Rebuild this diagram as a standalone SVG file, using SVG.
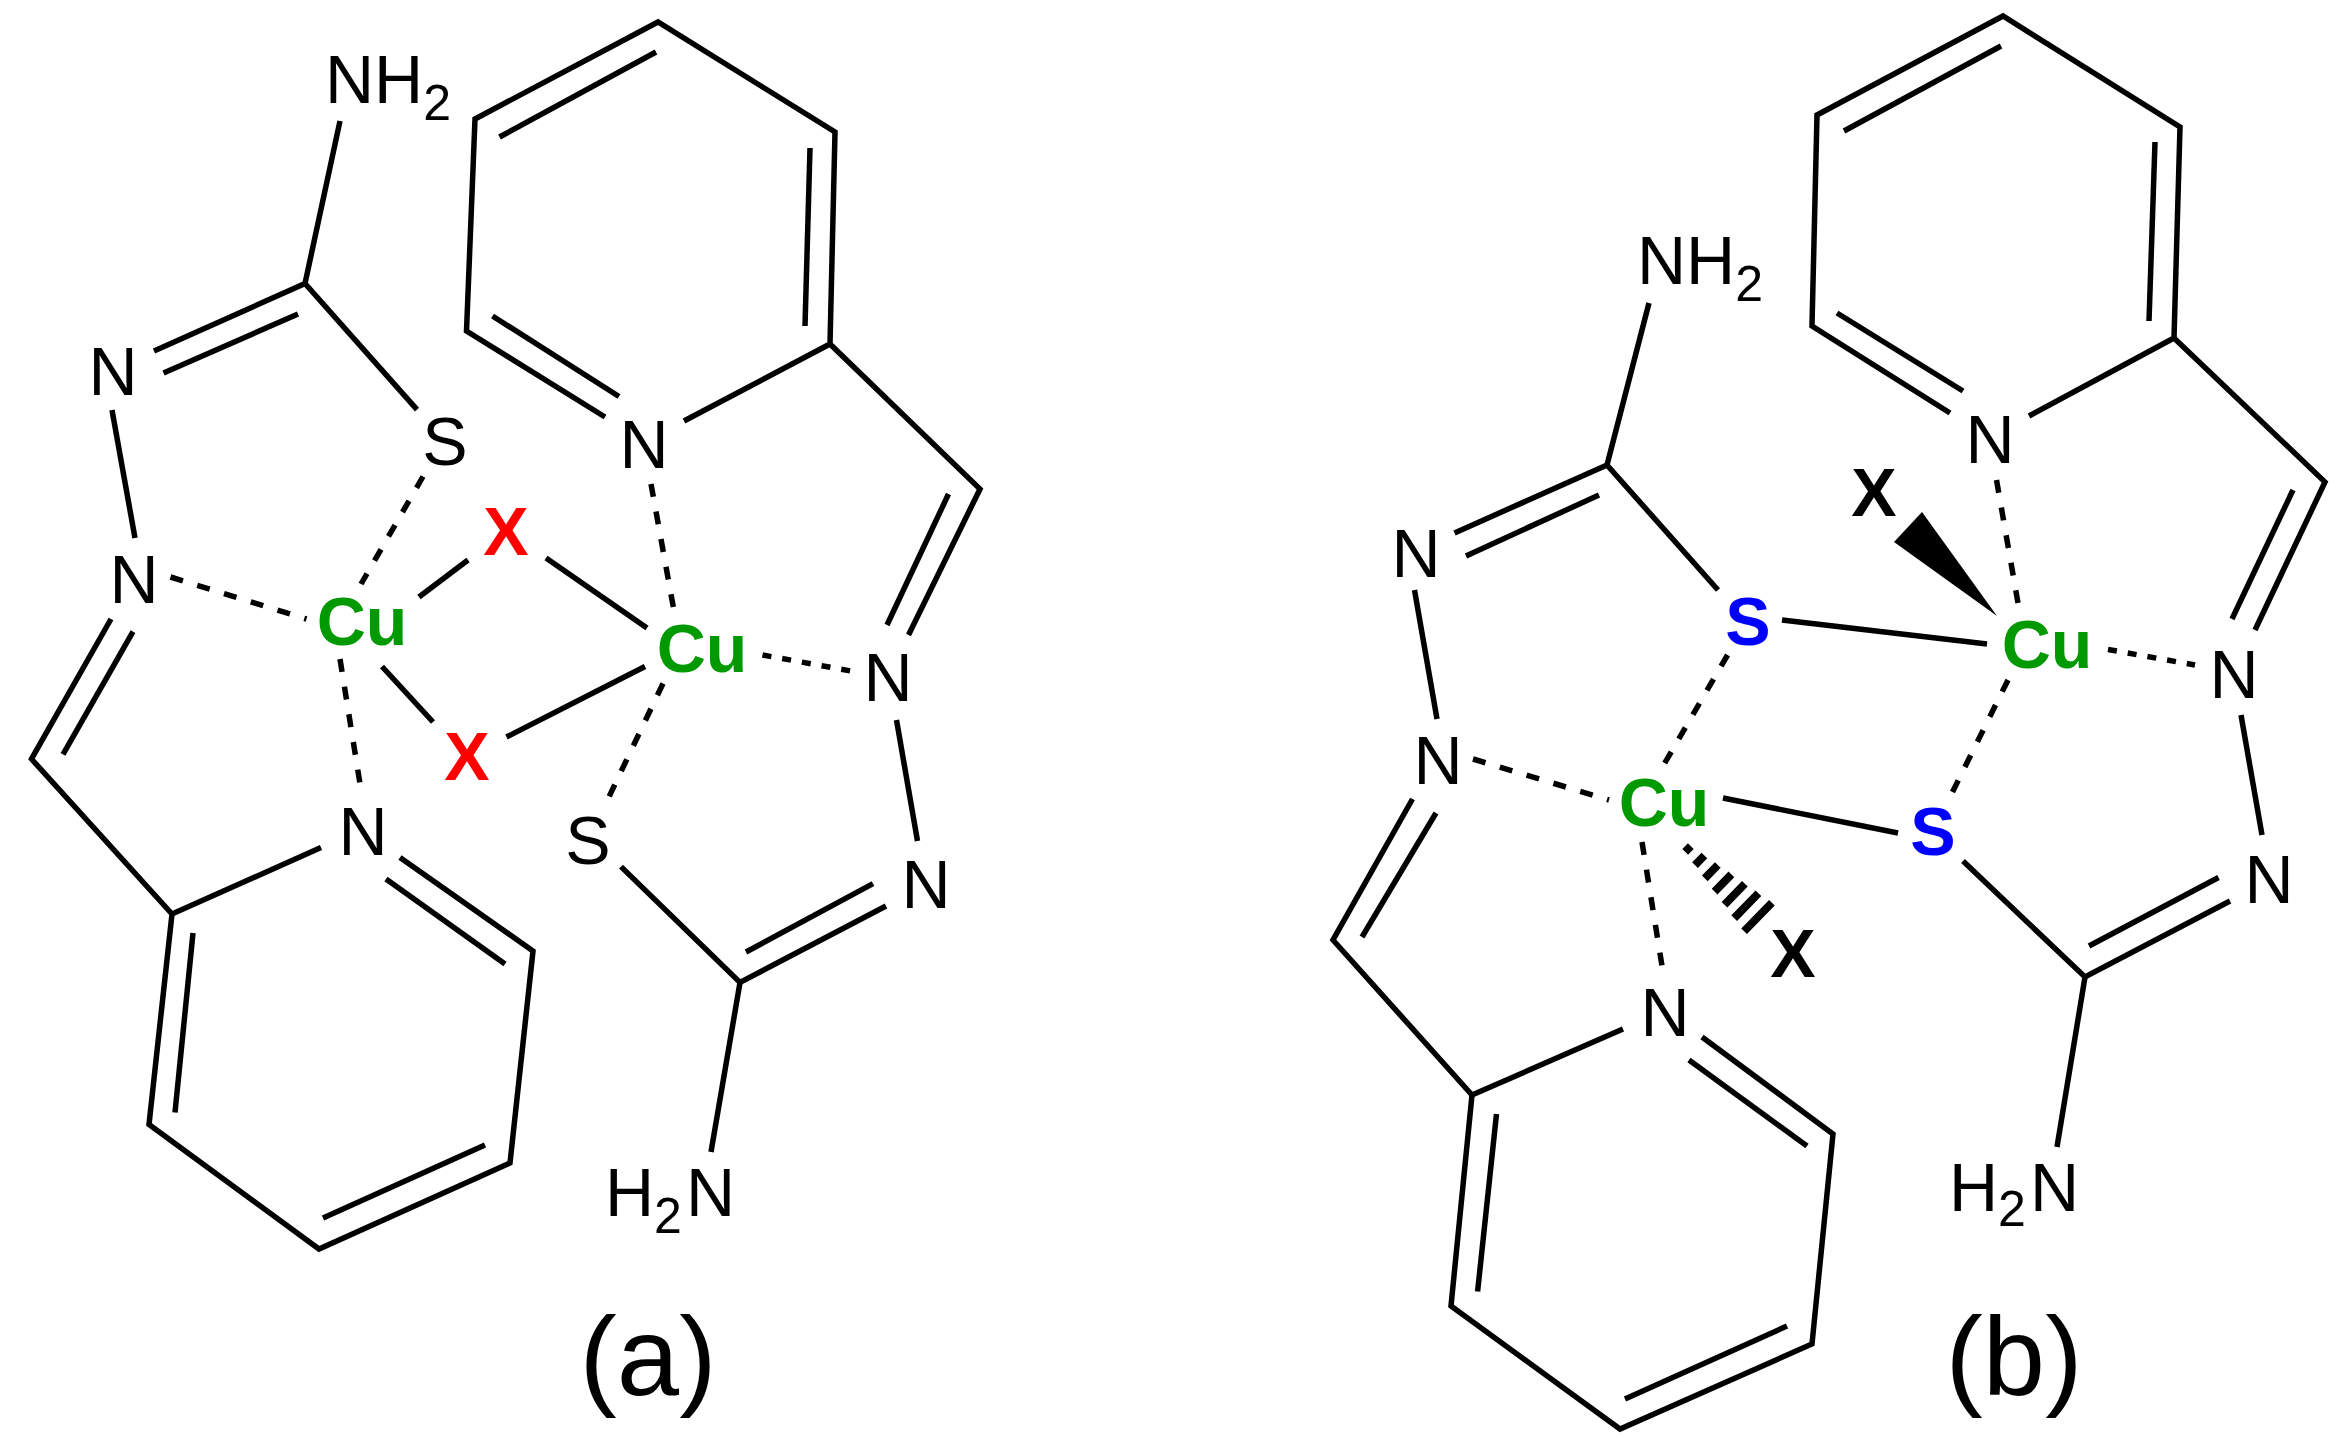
<svg xmlns="http://www.w3.org/2000/svg" width="2348" height="1442" viewBox="0 0 2348 1442">
<style>
text{font-family:"Liberation Sans",Arial,sans-serif;font-size:68px;fill:#000}
.m{text-anchor:middle}
.b{font-weight:bold}
.cu{fill:#009900;font-weight:bold}
.red{fill:#ff0000;font-weight:bold}
.blue{fill:#0000ff;font-weight:bold}
.sub{font-size:50px}
.cap{font-size:112px;text-anchor:middle}
#bonds line,#bonds polyline{stroke:#000;stroke-width:5.5;fill:none;stroke-linecap:butt;stroke-linejoin:miter}
#bonds .d{stroke-dasharray:13 15}
#bonds .o{stroke-dasharray:9 11}
#bonds .h{stroke-width:8}
</style>
<rect width="2348" height="1442" fill="#fff"/>
<g id="bonds">
<!-- panel a, upper ligand -->
<polyline points="605,417 466.5,331 475,119 658,22 835,132 830,344 684,421"/>
<line x1="656" y1="52" x2="499.5" y2="137"/>
<line x1="810" y1="148" x2="805" y2="326"/>
<line x1="492.5" y1="316" x2="619" y2="396.5"/>
<polyline points="830,344 980,489 908.5,635"/>
<line x1="948.5" y1="494" x2="887" y2="625"/>
<line x1="896.5" y1="720" x2="917.5" y2="841"/>
<polyline points="340,121 305,283.5 154,351"/>
<line x1="298" y1="314" x2="163.5" y2="373"/>
<line x1="305" y1="283.5" x2="417" y2="409.6"/>
<line x1="112" y1="410" x2="135" y2="538"/>
<line class="d" x1="170.5" y1="577" x2="306.5" y2="619"/>
<line class="d" x1="423" y1="476.5" x2="361" y2="584"/>
<line x1="419" y1="597" x2="468" y2="560"/>
<line x1="546" y1="558" x2="647" y2="628"/>
<line class="d" x1="651" y1="484" x2="673.5" y2="608"/>
<line class="o" x1="762.5" y1="655" x2="851" y2="671"/>
<line x1="382" y1="666.5" x2="433" y2="722"/>
<line x1="645" y1="666.5" x2="506.5" y2="737"/>
<line class="d" x1="340" y1="659" x2="361" y2="790"/>
<line class="d" x1="663" y1="683.5" x2="607" y2="801"/>
<!-- panel a, lower ligand -->
<polyline points="111,619 31.5,759 172,914 321,847.6"/>
<line x1="133" y1="631.6" x2="63" y2="754.4"/>
<polyline points="172,914 149,1124.5 319,1249 510,1163 533,951 400,857.6"/>
<line x1="386" y1="879" x2="505" y2="964"/>
<line x1="193" y1="933" x2="175" y2="1112.6"/>
<line x1="323" y1="1218" x2="485" y2="1145"/>
<polyline points="621,866.6 740,982.5 886,906"/>
<line x1="746" y1="952" x2="873" y2="883.6"/>
<line x1="740" y1="982.5" x2="711" y2="1152"/>
<!-- panel b, upper ligand -->
<polyline points="1950,413 1812,326 1817,115 2003,16 2180,127 2174,338 2029,416"/>
<line x1="2001" y1="46" x2="1844" y2="131"/>
<line x1="2155" y1="142" x2="2149" y2="321"/>
<line x1="1837" y1="313" x2="1963" y2="391"/>
<polyline points="2174,338 2325,482 2255,630"/>
<line x1="2293" y1="490" x2="2232" y2="619"/>
<line x1="2241" y1="715" x2="2262" y2="835"/>
<polyline points="1649,303 1607,465 1454.5,533"/>
<line x1="1599" y1="495" x2="1466" y2="556"/>
<line x1="1607" y1="465" x2="1718" y2="590"/>
<line x1="1414.5" y1="590" x2="1437" y2="719"/>
<line x1="1782" y1="620" x2="1987" y2="644"/>
<line class="d" x1="1996.5" y1="480" x2="2018" y2="603"/>
<line class="o" x1="2108" y1="649.5" x2="2195" y2="665"/>
<line class="d" x1="2008" y1="680" x2="1952" y2="793"/>
<line class="d" x1="1727.6" y1="655" x2="1663" y2="766"/>
<line class="d" x1="1473" y1="759" x2="1609" y2="800"/>
<line x1="1723" y1="798" x2="1898" y2="833"/>
<line class="d" x1="1642" y1="842" x2="1663" y2="972"/>
<polygon points="1997,616 1922,512 1894,542" fill="#000"/>
<line class="h" x1="1685.2" y1="851.9" x2="1690.8" y2="846.1"/>
<line class="h" x1="1695" y1="865.1" x2="1704.4" y2="855.5"/>
<line class="h" x1="1704.8" y1="878.4" x2="1717.8" y2="865"/>
<line class="h" x1="1714.6" y1="891.6" x2="1731.4" y2="874.4"/>
<line class="h" x1="1724.5" y1="904.8" x2="1744.9" y2="883.8"/>
<line class="h" x1="1734.2" y1="918.1" x2="1758.4" y2="893.3"/>
<line class="h" x1="1744.1" y1="931.3" x2="1771.9" y2="902.7"/>
<!-- panel b, lower ligand -->
<polyline points="1412.5,799 1333,940 1472,1095 1623,1029"/>
<line x1="1436" y1="813" x2="1362" y2="937"/>
<polyline points="1472,1095 1451,1306 1620,1429 1812,1344 1833,1134 1702,1037"/>
<line x1="1689" y1="1060" x2="1807" y2="1146"/>
<line x1="1496.5" y1="1114" x2="1477.6" y2="1291.5"/>
<line x1="1625" y1="1399" x2="1787" y2="1326"/>
<polyline points="1963,861 2085,977 2230,901"/>
<line x1="2089" y1="946" x2="2218.5" y2="877.5"/>
<line x1="2085" y1="977" x2="2057" y2="1147"/>
</g>
<g id="a-nh2"><text x="325" y="103">NH<tspan class="sub" dy="17">2</tspan></text></g>
<g id="a-n1"><text class="m" x="113" y="395">N</text></g>
<g id="a-s1"><text class="m" x="445" y="465">S</text></g>
<g id="a-n2"><text class="m" x="134" y="603">N</text></g>
<g id="a-n3"><text class="m" x="644" y="468">N</text></g>
<g id="a-cu1"><text class="m cu" x="362" y="645">Cu</text></g>
<g id="a-cu2"><text class="m cu" x="702" y="672">Cu</text></g>
<g id="a-x1"><text class="m red" x="506" y="555">X</text></g>
<g id="a-x2"><text class="m red" x="467" y="780">X</text></g>
<g id="a-n4"><text class="m" x="888" y="701">N</text></g>
<g id="a-n5"><text class="m" x="363" y="855">N</text></g>
<g id="a-s2"><text class="m" x="588" y="864">S</text></g>
<g id="a-n6"><text class="m" x="926" y="908">N</text></g>
<g id="a-h2n"><text x="605" y="1216">H<tspan class="sub" dy="17">2</tspan><tspan dy="-17" dx="4">N</tspan></text></g>
<g id="a-label"><text class="cap" x="648" y="1395">(a)</text></g>
<g id="b-nh2"><text x="1637" y="284">NH<tspan class="sub" dy="17">2</tspan></text></g>
<g id="b-n1"><text class="m" x="1416" y="577">N</text></g>
<g id="b-s1"><text class="m blue" x="1748" y="645">S</text></g>
<g id="b-n2"><text class="m" x="1438" y="784">N</text></g>
<g id="b-n3"><text class="m" x="1990" y="463">N</text></g>
<g id="b-x1"><text class="m b" x="1874" y="516">X</text></g>
<g id="b-cu1"><text class="m cu" x="2047" y="668">Cu</text></g>
<g id="b-cu2"><text class="m cu" x="1664" y="826">Cu</text></g>
<g id="b-x2"><text class="m b" x="1793" y="977">X</text></g>
<g id="b-n4"><text class="m" x="2234" y="698">N</text></g>
<g id="b-s2"><text class="m blue" x="1933" y="855">S</text></g>
<g id="b-n5"><text class="m" x="1665" y="1036">N</text></g>
<g id="b-n6"><text class="m" x="2269" y="903">N</text></g>
<g id="b-h2n"><text x="1949" y="1211">H<tspan class="sub" dy="15">2</tspan><tspan dy="-15" dx="4">N</tspan></text></g>
<g id="b-label"><text class="cap" x="2014" y="1395">(b)</text></g>
</svg>
